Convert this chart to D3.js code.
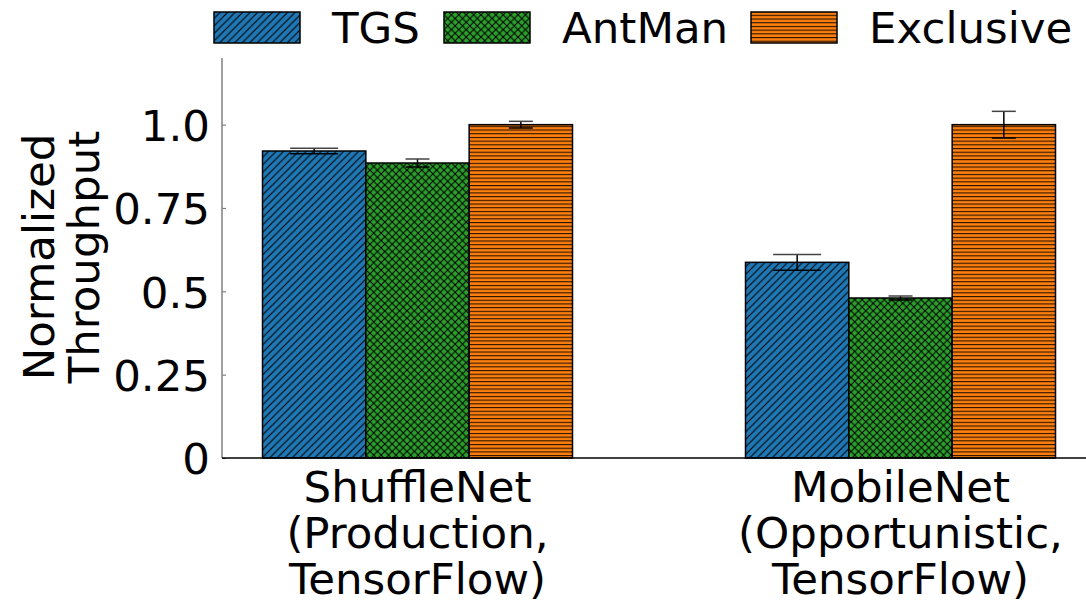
<!DOCTYPE html>
<html>
<head>
<meta charset="utf-8">
<script src="https://cdn.jsdelivr.net/npm/d3@7"></script>
<style>
  html, body { margin: 0; padding: 0; background: #fff; }
  svg { display: block; font-family: "DejaVu Sans", sans-serif; }
</style>
</head>
<body>
<svg id="chart" width="1086" height="605"></svg>
<script>
// Workload groups and the three schedulers compared
const groups = ["ShuffleNet", "MobileNet"];
const groupLabels = [
  ["ShuffleNet", "(Production,", "TensorFlow)"],
  ["MobileNet", "(Opportunistic,", "TensorFlow)"]
];
const series = ["TGS", "AntMan", "Exclusive"];

// Normalized throughput per scheduler, one value per group
const tgsValues = [0.921, 0.587];
const antmanValues = [0.885, 0.480];
const exclusiveValues = [1.0, 1.0];

// Error bar half-widths
const tgsErr = [0.008, 0.0235];
const antmanErr = [0.012, 0.006];
const exclusiveErr = [0.010, 0.040];

const yTicks = [0, 0.25, 0.5, 0.75, 1.0];
const yTickLabels = ["0", "0.25", "0.5", "0.75", "1.0"];

const values = [tgsValues, antmanValues, exclusiveValues];
const errors = [tgsErr, antmanErr, exclusiveErr];
const colors = ["#1f77b4", "#2ca02c", "#ff7f0e"];
const capWidths = [48, 24, 24];

const FONT = 43.5;

const svg = d3.select("#chart");
const plot = { left: 222, right: 1086, top: 58, bottom: 458 };

// Hatch patterns: diagonal, cross and horizontal lines
const defs = svg.append("defs");
function pattern(id, size, bg, draw, w) {
  const p = defs.append("pattern").attr("id", id)
    .attr("patternUnits", "userSpaceOnUse")
    .attr("width", w || size).attr("height", size);
  p.append("rect").attr("width", w || size).attr("height", size).attr("fill", bg);
  draw(p);
}
pattern("hatch-tgs", 7.5, colors[0], p => {
  const s = 7.5;
  p.append("path")
    .attr("d", `M0,${s} L${s},0 M${-s/2},${s/2} L${s/2},${-s/2} M${s/2},${s*1.5} L${s*1.5},${s/2}`)
    .attr("stroke", "#000").attr("stroke-width", 1.1);
});
pattern("hatch-antman", 7.4, colors[1], p => {
  const s = 7.4;
  p.append("path")
    .attr("d", `M0,${s} L${s},0 M${-s/2},${s/2} L${s/2},${-s/2} M${s/2},${s*1.5} L${s*1.5},${s/2}
                M0,0 L${s},${s} M${-s/2},${s/2} L${s/2},${s*1.5} M${s/2},${-s/2} L${s*1.5},${s/2}`)
    .attr("stroke", "#000").attr("stroke-width", 1.1);
});
pattern("hatch-exclusive", 3.7, colors[2], p => {
  p.append("rect").attr("x", 0).attr("y", 0).attr("width", 10).attr("height", 1.1).attr("fill", "#000").attr("opacity", 0.85);
}, 10);
const patternIds = ["hatch-tgs", "hatch-antman", "hatch-exclusive"];

// Scales
const x = d3.scalePoint().domain(groups).range([417.5, 900.5]);
const xSub = d3.scaleBand().domain(series).range([-155, 155]).paddingInner(0);
const y = d3.scaleLinear().domain([0, 1.2]).range([plot.bottom, plot.top]);

// Bars
const barData = [];
groups.forEach((g, gi) => {
  series.forEach((s, si) => {
    barData.push({ g, gi, s, si, v: values[si][gi], e: errors[si][gi] });
  });
});

svg.append("g").selectAll("rect")
  .data(barData).join("rect")
  .attr("x", d => x(d.g) + xSub(d.s))
  .attr("y", d => y(d.v))
  .attr("width", xSub.bandwidth())
  .attr("height", d => y(0) - y(d.v))
  .attr("fill", d => `url(#${patternIds[d.si]})`)
  .attr("stroke", "#000")
  .attr("stroke-width", 1.5);

// Error bars
const eb = svg.append("g").attr("stroke", "#000").attr("stroke-width", 1.5);
barData.forEach(d => {
  const cx = x(d.g) + xSub(d.s) + xSub.bandwidth() / 2;
  const cw = capWidths[d.si] / 2;
  eb.append("line").attr("x1", cx).attr("x2", cx).attr("y1", y(d.v + d.e)).attr("y2", y(d.v - d.e));
  eb.append("line").attr("x1", cx - cw).attr("x2", cx + cw).attr("y1", y(d.v + d.e)).attr("y2", y(d.v + d.e)).attr("stroke", "#444");
  eb.append("line").attr("x1", cx - cw).attr("x2", cx + cw).attr("y1", y(d.v - d.e)).attr("y2", y(d.v - d.e));
});

// Y axis: grey spine, inward ticks
const yAxis = d3.axisLeft(y).tickValues(yTicks)
  .tickFormat((d, i) => yTickLabels[i])
  .tickSizeInner(-4).tickSizeOuter(0).tickPadding(12);
const yg = svg.append("g").attr("transform", `translate(${plot.left},0)`).call(yAxis);
yg.select(".domain").attr("stroke", "#808080").attr("stroke-width", 1.5)
  .attr("d", `M0,${plot.top}V${plot.bottom}`);
yg.selectAll(".tick line").attr("stroke", "#808080").attr("stroke-width", 1.2);
yg.selectAll(".tick text")
  .attr("font-size", FONT).attr("fill", "#000")
  .attr("font-family", "DejaVu Sans")
  .attr("x", -12).attr("dy", "0.36em");

// X axis baseline
svg.append("line")
  .attr("x1", plot.left).attr("x2", plot.right)
  .attr("y1", y(0)).attr("y2", y(0))
  .attr("stroke", "#000").attr("stroke-width", 1.5);

// Group labels (three lines each)
groups.forEach((g, gi) => {
  const t = svg.append("text")
    .attr("text-anchor", "middle")
    .attr("font-size", FONT)
    .attr("fill", "#000");
  groupLabels[gi].forEach((line, li) => {
    t.append("tspan").attr("x", x(g)).attr("y", 502 + li * 46).text(line);
  });
});

// Y axis title
const yt = svg.append("text")
  .attr("transform", "translate(0,257) rotate(-90)")
  .attr("text-anchor", "middle")
  .attr("font-size", FONT)
  .attr("fill", "#000");
yt.append("tspan").attr("x", 0).attr("y", 54).text("Normalized");
yt.append("tspan").attr("x", 0).attr("y", 99).text("Throughput");

// Legend
const legendBoxX = [214, 444, 751];
const lg = svg.append("g");
series.forEach((s, si) => {
  lg.append("rect")
    .attr("x", legendBoxX[si]).attr("y", 12)
    .attr("width", 86).attr("height", 31)
    .attr("fill", `url(#${patternIds[si]})`)
    .attr("stroke", "#000").attr("stroke-width", 1.5);
  lg.append("text")
    .attr("x", legendBoxX[si] + 118).attr("y", 43)
    .attr("font-size", FONT).attr("fill", "#000")
    .text(s);
});
</script>
</body>
</html>
